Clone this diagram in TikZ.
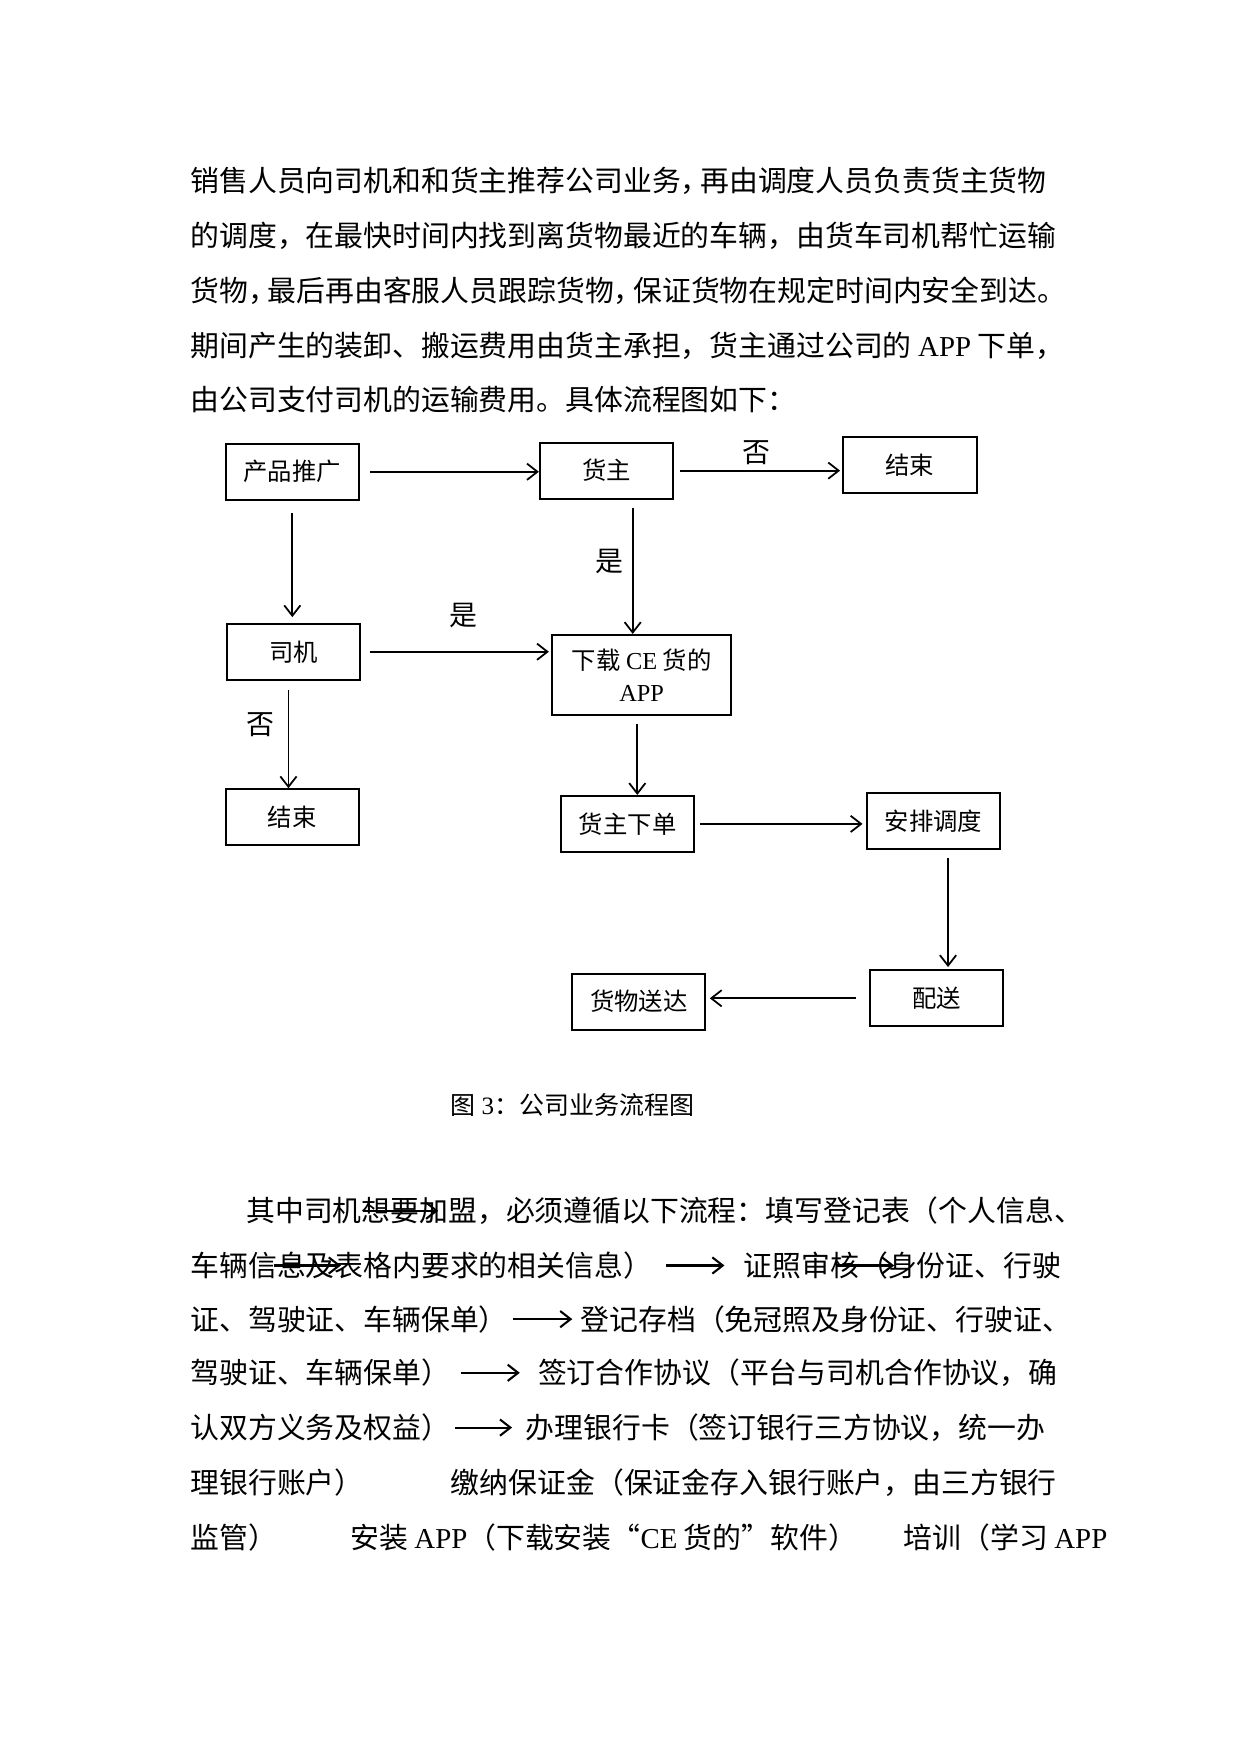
\documentclass[tikz,border=0pt]{standalone}
\usepackage{fontspec}
\setmainfont{Noto Sans CJK SC}
\newfontfamily\latin{Liberation Serif}
\usepackage{tikz}
\usetikzlibrary{arrows.meta}

\begin{document}
\begin{tikzpicture}[x=0.53665pt, y=-0.53665pt,
  >={Straight Barb[length=5pt,width=7.8pt]},
  box/.style={rectangle, draw, line width=1pt, minimum width=63.9pt, minimum height=26.8pt, inner sep=0pt, font=\fontsize{11.7pt}{15.5pt}\selectfont},
  flow/.style={->, line width=0.85pt},
  lbl/.style={inner sep=0pt, font=\fontsize{13.4pt}{15pt}\selectfont},
  para/.style={anchor=west, inner sep=0pt, font=\fontsize{13.85pt}{16pt}\selectfont},
  txtarrow/.style={->, line width=1pt}]
  \useasboundingbox (0,0) rectangle (1110,1569);

  % Text above the chart
  \node[para] (p1) at (170,162) {销售人员向司机和和货主推荐公司业务，\kern-4.5pt再由调度人员负责货主货物};
  \node[para] (p2) at (170,211) {的调度，在最快时间内找到离货物最近的车辆，由货车司机帮忙运输};
  \node[para] (p3) at (170,260) {货物，\kern-4.5pt最后再由客服人员跟踪货物，\kern-4.5pt保证货物在规定时间内安全到达。};
  \node[para] (p4) at (170,309) {期间产生的装卸、搬运费用由货主承担，货主通过公司的 {\latin APP} 下单，};
  \node[para] (p5) at (170,357) {由公司支付司机的运输费用。具体流程图如下：};

  % Boxes
  \node[box] (tuiguang) at (261.5,422) {产品推广};
  \node[box] (huozhu) at (542.5,421) {货主};
  \node[box] (endA) at (814,416) {结束};
  \node[box] (siji) at (262.5,583) {司机};
  \node[box, minimum width=85.9pt, minimum height=38.6pt, align=center] (xiazai) at (574,604) {下载 {\latin CE} 货的\\{\latin APP}};
  \node[box] (endB) at (261.5,731) {结束};
  \node[box] (xiadan) at (561.5,737) {货主下单};
  \node[box] (anpai) at (835,734.5) {安排调度};
  \node[box] (peisong) at (838,893) {配送};
  \node[box] (songda) at (571.5,896) {货物送达};

  % Connectors
  \draw[flow, shorten <=4.8pt] (tuiguang.east) -- (tuiguang.east -| huozhu.west);
  \draw[flow, shorten <=2.7pt, shorten >=1.1pt] (huozhu.east) -- (huozhu.east -| endA.west);
  \node[lbl] (no1) at (677,405) {否};
  \draw[flow, shorten <=5.9pt, shorten >=2.7pt] (tuiguang.south) -- (tuiguang.south |- siji.north);
  \draw[flow, shorten <=3.8pt] ([xshift=12.6pt]huozhu.south) -- ([xshift=12.6pt]huozhu.south |- xiazai.north);
  \node[lbl] (yes1) at (545,502) {是};
  \draw[flow, shorten <=4.3pt, shorten >=1.1pt] (siji.east) -- (siji.east -| xiazai.west);
  \node[lbl] (yes2) at (415,551) {是};
  \draw[flow, shorten <=4.3pt] ([xshift=-2.4pt]siji.south) -- ([xshift=-2.4pt]siji.south |- endB.north);
  \node[lbl] (no2) at (233,648) {否};
  \draw[flow, shorten <=3.8pt] ([xshift=-2.1pt]xiazai.south) -- ([xshift=-2.1pt]xiazai.south |- xiadan.north);
  \draw[flow, shorten <=2.1pt, shorten >=1.6pt] (xiadan.east) -- (xiadan.east -| anpai.west);
  \draw[flow, shorten <=3.8pt, shorten >=1.1pt] ([xshift=7pt]anpai.south) -- ([xshift=7pt]anpai.south |- peisong.north);
  \draw[flow, shorten <=6.4pt, shorten >=1.6pt] (peisong.west) -- (peisong.west -| songda.east);

  % Caption
  \node[anchor=west, inner sep=0pt, font=\fontsize{12pt}{14pt}\selectfont] (caption) at (403,988) {图 {\latin 3}：公司业务流程图};

  % Text below the chart
  \node[para] (q1) at (220,1083) {其中司机想要加盟，必须遵循以下流程：填写登记表（个人信息、};
  \node[para] (q2a) at (170,1132) {车辆信息及表格内要求的相关信息）};
  \node[para] (q2b) at (665,1132) {证照审核（身份证、行驶};
  \node[para] (q3a) at (170,1180) {证、驾驶证、车辆保单）};
  \node[para] (q3b) at (519,1180) {登记存档（免冠照及身份证、行驶证、};
  \node[para] (q4a) at (170,1228) {驾驶证、车辆保单）};
  \node[para] (q4b) at (481,1228) {签订合作协议（平台与司机合作协议，确};
  \node[para] (q5a) at (170,1277) {认双方义务及权益）};
  \node[para] (q5b) at (470,1277) {办理银行卡（签订银行三方协议，统一办};
  \node[para] (q6a) at (170,1326) {理银行账户）};
  \node[para] (q6b) at (403,1326) {缴纳保证金（保证金存入银行账户，由三方银行};
  \node[para] (q7a) at (170,1375) {监管）};
  \node[para] (q7b) at (313,1375) {安装 {\latin APP}（下载安装“{\latin CE} 货的”软件）};
  \node[para] (q7c) at (808,1375) {培训（学习 {\latin APP}};

  % Arrows in the text
  \draw[txtarrow, shorten <=6.4pt, shorten >=9.1pt] (q2a.east) -- (q2b.west);
  \draw[txtarrow, shorten <=2.1pt, shorten >=3.8pt] (q3a.east) -- (q3b.west);
  \draw[txtarrow, shorten <=4.8pt, shorten >=8.6pt] (q4a.east) -- (q4b.west);
  \draw[txtarrow, shorten <=2.1pt, shorten >=6.4pt] (q5a.east) -- (q5b.west);
  \draw[txtarrow] ([xshift=56.3pt]q1.west) -- ([xshift=92.3pt]q1.west);
  \draw[txtarrow] ([xshift=40.2pt]q2a.west) -- ([xshift=72.4pt]q2a.west);
  \draw[txtarrow] ([xshift=44.5pt]q2b.west) -- ([xshift=72.4pt]q2b.west);
\end{tikzpicture}
\end{document}
